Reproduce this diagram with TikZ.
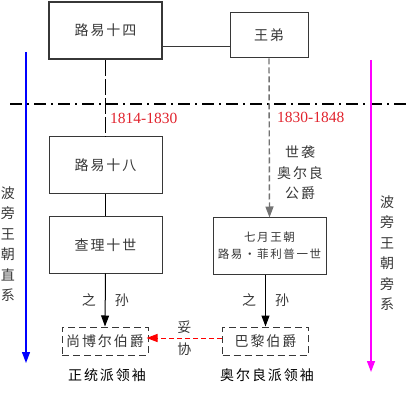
\documentclass[tikz,border=0pt]{standalone}
\usepackage{fontspec}
\setmainfont{Liberation Serif}
\newfontfamily\cjk[LetterSpace=14]{Noto Sans CJK SC}
\usetikzlibrary{arrows.meta}
\definecolor{boxgray}{RGB}{55,55,55}
\definecolor{yearred}{RGB}{225,35,45}
\definecolor{pinkline}{RGB}{255,0,255}

\begin{document}
\begin{tikzpicture}[x=1pt, y=-1pt,
  king/.style={draw=boxgray, line width=1pt, minimum width=113pt, minimum height=56pt,
    inner sep=0pt, font=\cjk\fontsize{14}{17}\selectfont, text=boxgray, align=center},
  heir/.style={draw=boxgray, line width=1pt, dash pattern=on 7pt off 4pt,
    minimum width=86pt, minimum height=28pt, inner sep=0pt,
    font=\cjk\fontsize{14}{17}\selectfont, text=boxgray},
  lbl/.style={font=\cjk\fontsize{14}{20.4}\selectfont, text=boxgray, align=center, inner sep=0pt},
  year/.style={font=\fontsize{15.5}{17}\selectfont, text=yearred, inner sep=0pt, anchor=west},
  tip/.style={-{Triangle[length=11pt, width=8pt]}}]
\useasboundingbox (0,0) rectangle (409,403);

% house lines
\draw[line width=1.3pt, dash pattern=on 12pt off 5pt on 2pt off 5pt] (10,104) -- (409,104);
\draw[blue, line width=1.3pt, tip] (26,52) -- (26,363);
\draw[pinkline, line width=1.3pt, tip] (371,60) -- (371,372);
\node[lbl] (zx) at (8,244) {波\\旁\\王\\朝\\直\\系};
\node[lbl] (px) at (387,253) {波\\旁\\王\\朝\\旁\\系};

% kings
\node[king, line width=2.4pt, minimum height=57pt] (l14) at (105.5,30.5) {路易十四};
\node[king, minimum width=78pt, minimum height=45pt] (wd) at (269,35.5) {王弟};
\node[king, minimum height=57pt] (l18) at (105.5,165.5) {路易十八};
\node[king] (c10) at (105.5,245) {查理十世};
\node[king, font=\cjk\fontsize{11.5}{17}\selectfont] (qy) at (269.5,246) {七月王朝\\路易·菲利普一世};

% heirs
\node[heir] (cb) at (105,341) {尚博尔伯爵};
\node[heir] (bl) at (265.5,341) {巴黎伯爵};
\node[lbl, text=black] (zt) at (107,375) {正统派领袖};
\node[lbl, text=black] (ae) at (267,375) {奥尔良派领袖};

% links
\draw[boxgray, line width=1pt] (l14.east |- 0,47) -- (wd.west |- 0,47);
\draw[line width=1pt, dash pattern=on 16pt off 3pt] (l14.south) -- (l18.north);
\draw[line width=1pt] (l18.south) -- (c10.north);
\draw[gray!90!black, line width=1.4pt, dash pattern=on 6pt off 3pt, tip] (wd.south) -- (qy.north)
  node[pos=.72, right=7pt, lbl] {世袭\\奥尔良\\公爵};
\draw[line width=1pt, tip] (c10.south) -- (cb.north)
  node[midway, lbl, left=9pt] {之} node[midway, lbl, right=9pt] {孙};
\draw[line width=1pt, tip] (qy.south -| bl.north) -- (bl.north)
  node[midway, lbl, left=9pt] {之} node[midway, lbl, right=9pt] {孙};
\draw[red, line width=1pt, dash pattern=on 5pt off 3pt, tip] ([yshift=3pt]bl.west) -- ([yshift=3pt,xshift=-2pt]cb.east)
  node[midway, lbl, above=4pt] {妥} node[midway, lbl, below=4pt] {协};

% years
\node[year] (y1) at (110,118) {1814-1830};
\node[year] (y2) at (277,117) {1830-1848};
\end{tikzpicture}
\end{document}
